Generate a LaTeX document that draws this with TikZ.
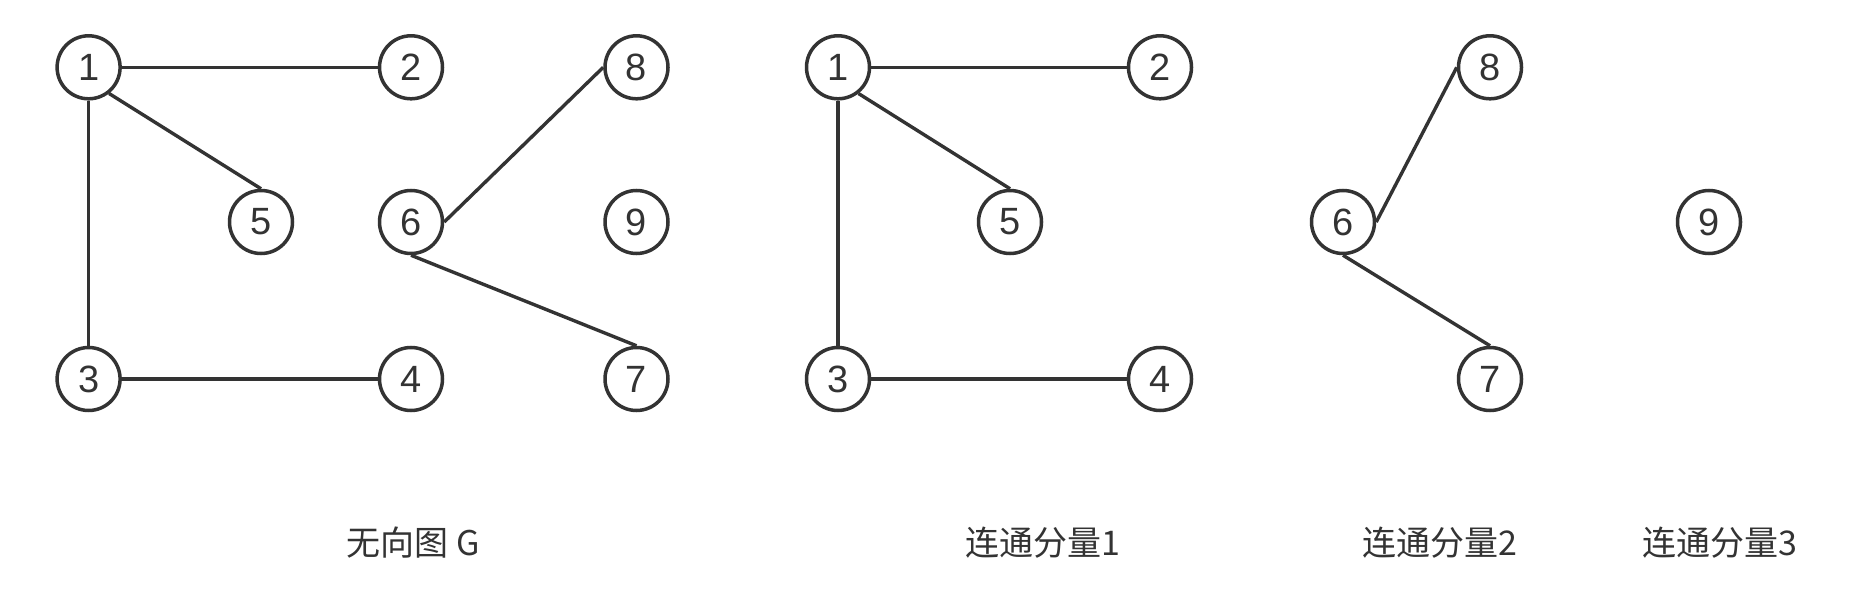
\documentclass[tikz,border=0pt]{standalone}
\usepackage{fontspec}
\setmainfont{Liberation Sans}
\newfontfamily\cjk{Noto Sans CJK SC}
\definecolor{ink}{HTML}{333333}
\begin{document}
\begin{tikzpicture}[x=1pt,y=-1pt,
  vtx/.style={circle,draw=ink,line width=3.5pt,fill=white,minimum size=63pt,inner sep=0pt,
    font=\fontsize{38}{38}\selectfont,text=ink},
  edge/.style={draw=ink,line width=3.4pt},
  captxt/.style={font=\cjk\fontsize{34}{34}\selectfont,text=ink,anchor=center}]
\useasboundingbox (0,0) rectangle (1852,604);
% graph G
\node[vtx] (a1) at (88.6,67.3) {1};
\node[vtx] (a2) at (411,67.3) {2};
\node[vtx] (a5) at (261,222) {5};
\node[vtx] (a6) at (411,222) {6};
\node[vtx] (a8) at (636.5,67.3) {8};
\node[vtx] (a9) at (636.5,222) {9};
\node[vtx] (a3) at (88.6,379) {3};
\node[vtx] (a4) at (411,379) {4};
\node[vtx] (a7) at (636.5,379) {7};
\draw[edge] (a1.east) -- (a2.west);
\draw[edge] (a1.-52) -- (a5.north);
\draw[edge] (a1.south) -- (a3.north);
\draw[edge] (a3.east) -- (a4.west);
\draw[edge] (a6.east) -- (a8.west);
\draw[edge] (a6.south) -- (a7.north);
% component 1
\node[vtx] (b1) at (838,67.3) {1};
\node[vtx] (b2) at (1160,67.3) {2};
\node[vtx] (b5) at (1010,222) {5};
\node[vtx] (b3) at (838,379) {3};
\node[vtx] (b4) at (1160,379) {4};
\draw[edge] (b1.east) -- (b2.west);
\draw[edge] (b1.-52) -- (b5.north);
\draw[edge] (b1.south) -- (b3.north);
\draw[edge] (b3.east) -- (b4.west);
% component 2
\node[vtx] (c6) at (1343,222) {6};
\node[vtx] (c8) at (1490,67.3) {8};
\node[vtx] (c7) at (1490,379) {7};
\draw[edge] (c6.east) -- (c8.west);
\draw[edge] (c6.south) -- (c7.north);
% component 3
\node[vtx] (d9) at (1709,222) {9};
% captions
\node[captxt] (tG) at (413,543) {无向图 G};
\node[captxt] (t1) at (1043,543) {连通分量1};
\node[captxt] (t2) at (1440,543) {连通分量2};
\node[captxt] (t3) at (1720,543) {连通分量3};
\end{tikzpicture}
\end{document}
